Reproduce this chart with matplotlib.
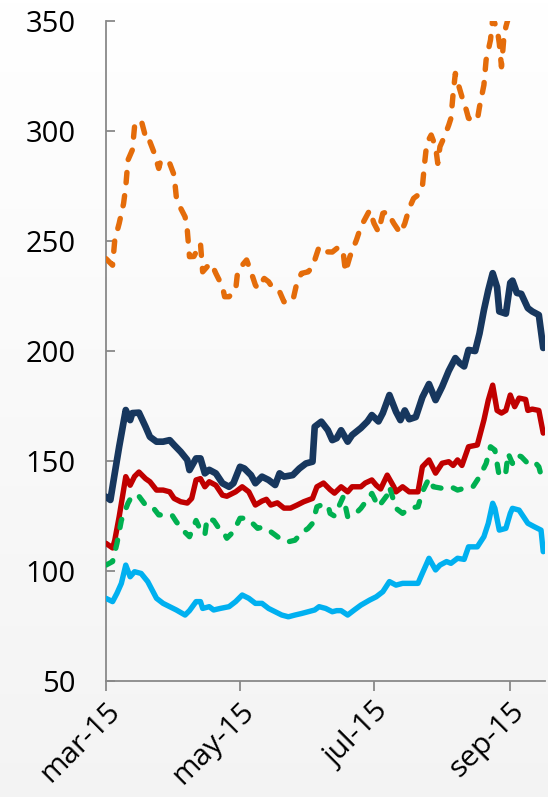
import matplotlib

matplotlib.use("Agg")
import matplotlib.pyplot as plt
import matplotlib.transforms as mtransforms
import numpy as np
import pandas as pd

START = "2015-03-01"

# days since 1 Mar 2015
ORANGE_DAYS = [0, 3, 4, 6, 8, 9, 10, 12, 13, 15, 16, 18, 19, 20, 22, 24, 25, 29, 31, 32,
               34, 36, 37, 38, 40, 43, 44, 46, 48, 50, 53, 54, 56, 59, 60, 62, 64, 66, 68, 69,
               72, 74, 76, 79, 81, 85, 87, 89, 92, 94, 96, 97, 100, 103, 106, 108, 109, 111, 114, 116,
               120, 122, 124, 126, 128, 131, 134, 136, 138, 140, 142, 144, 145, 146, 148, 150, 151, 152, 154, 156,
               157, 158, 159, 160, 162, 164, 165, 167, 169, 170, 172, 173, 175, 176, 178, 179, 180, 181, 182, 183,
               185, 188, 192, 196, 199]
ORANGE = [242, 239, 250.5, 258, 267, 274.7, 286.8, 291.4, 302, 304.2, 305, 297.4, 298, 295.1, 289.9, 283, 286.8, 285.3, 280, 270.1,
          264.9, 261, 255, 242.9, 243, 248.9, 236, 238.3, 239.8, 235.3, 229.3, 224.7, 224.7, 227.7, 236.8, 239, 241.4, 236, 230, 228.5,
          233, 231.5, 228.5, 227, 222.4, 222.7, 231.5, 235.3, 236, 238.3, 244.4, 247.4, 245.1, 245, 247.4, 244.4, 236, 242.9, 250.5, 256.5,
          264, 258, 254.2, 262.6, 263.3, 258, 253.5, 258, 264.9, 269.4, 270.9, 274.7, 285.3, 294.4, 298.2, 292.9, 285.3, 292.9, 297.4, 302.7,
          305.8, 317.1, 326.2, 322.4, 315.6, 309.5, 305.8, 305, 305, 311, 320.9, 332.3, 341.4, 351, 346.7, 339.9, 329.2, 341.4, 347.4, 351,
          358, 362, 366, 360, 357]

NAVY_DAYS = [0, 2, 4, 6, 9, 11, 12, 15, 18, 20, 23, 26, 29, 31, 34, 37, 38, 41, 43, 45,
             47, 50, 53, 56, 58, 61, 63, 66, 68, 71, 74, 77, 79, 81, 85, 88, 91, 94, 95, 98,
             101, 103, 105, 107, 110, 112, 116, 119, 121, 124, 126, 129, 132, 134, 136, 138, 141, 144, 147, 150,
             153, 156, 159, 161, 163, 165, 168, 170, 172, 174, 176, 178, 179, 182, 184, 185, 187, 189, 192, 194,
             197, 199]
NAVY = [133.8, 132.3, 144.5, 156.5, 173.2, 168.6, 171.8, 172, 165.6, 161, 158.8, 158.8, 159.5, 157.3, 154.2, 150.5, 145.9, 151.2, 151.2, 144.4,
        146, 144.4, 139.9, 138.3, 139.9, 147.4, 146.6, 143.6, 139.9, 142.9, 141.4, 139.1, 144.4, 142.9, 143.6, 146.6, 148.9, 149.7, 165.6, 167.9,
        164, 159.5, 160.4, 164, 158.8, 161.8, 165, 168, 170.9, 168, 171.8, 180, 172.4, 168.6, 173, 169, 170, 179, 185, 177.7,
        183.8, 191, 196.8, 194.5, 193, 200.5, 200, 208, 218.6, 227.7, 235.4, 229, 218, 217, 231, 232, 226.4, 226, 219.5, 218,
        216.4, 201.4]

RED_DAYS = [0, 3, 4, 6, 8, 9, 11, 13, 15, 18, 20, 23, 26, 29, 31, 34, 37, 39, 41, 43,
            45, 47, 50, 53, 55, 59, 62, 65, 68, 71, 73, 75, 78, 81, 84, 87, 90, 94, 96, 99,
            102, 104, 107, 110, 112, 116, 118, 121, 123, 125, 128, 131, 132, 135, 138, 142, 144, 147, 150, 153,
            156, 158, 160, 162, 165, 169, 172, 174, 176, 178, 180, 182, 184, 186, 188, 191, 192, 194, 197, 199]
RED = [112.6, 110.5, 114, 124.7, 136.8, 142.9, 139, 143, 145, 142, 140.6, 136.8, 136.8, 136, 133, 131.5, 130.9, 133, 141.4, 142,
       138.3, 140.6, 139, 134.5, 134, 136, 138.3, 136, 130, 131.8, 132.6, 130, 131, 128.6, 128.6, 130, 131.5, 133, 138.3, 140,
       137, 135.4, 138.3, 136, 138.3, 138.3, 140, 141.4, 139, 137.3, 143.6, 138.3, 136, 138.3, 136, 136, 147.4, 150.5, 144.5, 149,
       149.7, 148, 150.5, 148, 156.5, 157.3, 168.6, 177.7, 184.5, 173, 171.8, 173, 180, 174.7, 178.6, 178, 173, 173.6, 173, 162.7]

GREEN_DAYS = [0, 3, 5, 7, 10, 12, 15, 18, 21, 24, 27, 30, 32, 35, 38, 41, 43, 45, 46, 49,
              51, 53, 55, 58, 61, 64, 66, 69, 71, 74, 77, 80, 83, 86, 89, 92, 94, 96, 98, 101,
              102, 104, 108, 110, 113, 116, 121, 124, 128, 129, 132, 135, 138, 142, 144, 147, 149, 153, 157, 160,
              163, 167, 170, 173, 175, 177, 179, 182, 183, 185, 187, 189, 192, 195, 197, 199]
GREEN = [102.7, 104.3, 112.6, 123, 130.8, 134.5, 134, 130, 129.4, 125.5, 125.5, 125.5, 122.4, 118.6, 115.6, 123, 118.6, 116.4, 124, 123,
         120, 118.5, 114.9, 117.9, 124, 124, 122.4, 119.4, 119.9, 118.6, 116.4, 114.1, 113.3, 114, 117.3, 119.4, 121.7, 129.2, 130, 130,
         126.2, 125, 133.8, 124.7, 125.5, 128.5, 135.3, 129.2, 134.5, 138.3, 128.5, 126.2, 128.5, 129.2, 136, 142.1, 138.3, 137.6, 138.3, 136.8,
         137.6, 138.3, 142.9, 148.9, 156.5, 155, 142.9, 145.1, 153.5, 148.9, 152.7, 152, 148.9, 149.7, 147.4, 139.9]

BLUE_DAYS = [0, 3, 5, 7, 9, 11, 13, 16, 19, 21, 23, 26, 29, 32, 36, 38, 41, 43, 44, 47,
             49, 52, 56, 59, 62, 65, 68, 71, 74, 77, 80, 83, 86, 89, 92, 95, 97, 100, 103, 105,
             107, 110, 113, 116, 120, 123, 126, 129, 132, 135, 139, 142, 144, 146, 147, 150, 152, 155, 157, 160,
             163, 165, 169, 172, 174, 176, 177, 179, 182, 184, 185, 188, 190, 192, 195, 198, 199]
BLUE = [87.6, 86.1, 89.9, 94.4, 102.7, 97.4, 99.7, 98.9, 95.2, 91.4, 87.6, 85.3, 83.8, 82.3, 80, 82, 86.1, 86.1, 83, 83.8,
        82.3, 83, 83.8, 86.1, 89.1, 87.6, 85.3, 85.3, 83, 81.5, 80, 79.2, 80, 80.7, 81.5, 82.3, 83.8, 83, 81.5, 82,
        82, 80, 82.3, 84.5, 86.8, 88.3, 90.6, 95.2, 93.6, 94.4, 94.4, 94.4, 99, 103.5, 105.8, 100.5, 102.7, 104.3, 103.5, 105.8,
        105.3, 111, 111, 115.6, 121.7, 130.8, 128.5, 118.6, 119.4, 126.2, 128.5, 127.7, 124.7, 121.7, 120.1, 118.6, 108.8]

TICK_DATES = ["2015-03-01", "2015-05-01", "2015-07-01", "2015-09-01"]
TICK_LABELS = ["mar-15", "may-15", "jul-15", "sep-15"]
Y_TICKS = [50, 100, 150, 200, 250, 300, 350]


def to_dates(days):
    return pd.Timestamp(START) + pd.to_timedelta(np.array(days, dtype=float), unit="D")


plt.rcParams["font.family"] = ["Open Sans", "DejaVu Sans"]

fig = plt.figure(figsize=(5.48, 7.97), dpi=100)

# faint vertical gradient in the background
bg = fig.add_axes([0, 0, 1, 1], zorder=-10)
grad = np.linspace(1.0, 0.955, 256).reshape(-1, 1)
bg.imshow(np.dstack([grad, grad, grad]), aspect="auto", extent=[0, 1, 0, 1])
bg.axis("off")

ax = fig.add_axes([0.1934, 0.1455, 0.8011, 0.8281])
ax.set_facecolor("none")

ax.plot(to_dates(NAVY_DAYS), NAVY, color="#17375E", lw=4.8,
        solid_joinstyle="round", solid_capstyle="round", zorder=3)
ax.plot(to_dates(RED_DAYS), RED, color="#C00000", lw=3.9,
        solid_joinstyle="round", solid_capstyle="round", zorder=3)
ax.plot(to_dates(GREEN_DAYS), GREEN, color="#00B050", lw=3.8, dashes=(1.6, 2.4),
        dash_capstyle="round", dash_joinstyle="round", zorder=4)
ax.plot(to_dates(BLUE_DAYS), BLUE, color="#00B0F0", lw=3.9,
        solid_joinstyle="round", solid_capstyle="round", zorder=3)
ax.plot(to_dates(ORANGE_DAYS), ORANGE, color="#E46C0A", lw=3.9, dashes=(1.9, 2.4),
        dash_capstyle="round", dash_joinstyle="round", zorder=3)

ax.set_ylim(50, 350)
ax.set_xlim(pd.Timestamp(START), pd.Timestamp(START) + pd.Timedelta(days=199.8))
ax.set_yticks(Y_TICKS)
ax.set_xticks(pd.to_datetime(TICK_DATES))
ax.set_xticklabels(TICK_LABELS, rotation=45, ha="right", va="top",
                   rotation_mode="anchor")
shift = mtransforms.ScaledTranslation(-7 / 100, -6 / 100, fig.dpi_scale_trans)
for lab in ax.get_xticklabels():
    lab.set_transform(lab.get_transform() + shift)

for s in ["top", "right"]:
    ax.spines[s].set_visible(False)
for s in ["left", "bottom"]:
    ax.spines[s].set_color("#898989")
    ax.spines[s].set_linewidth(1.3)

ax.tick_params(axis="y", direction="in", length=6.5, width=1.3, color="#898989",
               labelsize=21, pad=22)
ax.tick_params(axis="x", direction="out", length=7, width=1.3, color="#898989",
               labelsize=21.5, pad=4)

fig.savefig("out.png", dpi=100)
